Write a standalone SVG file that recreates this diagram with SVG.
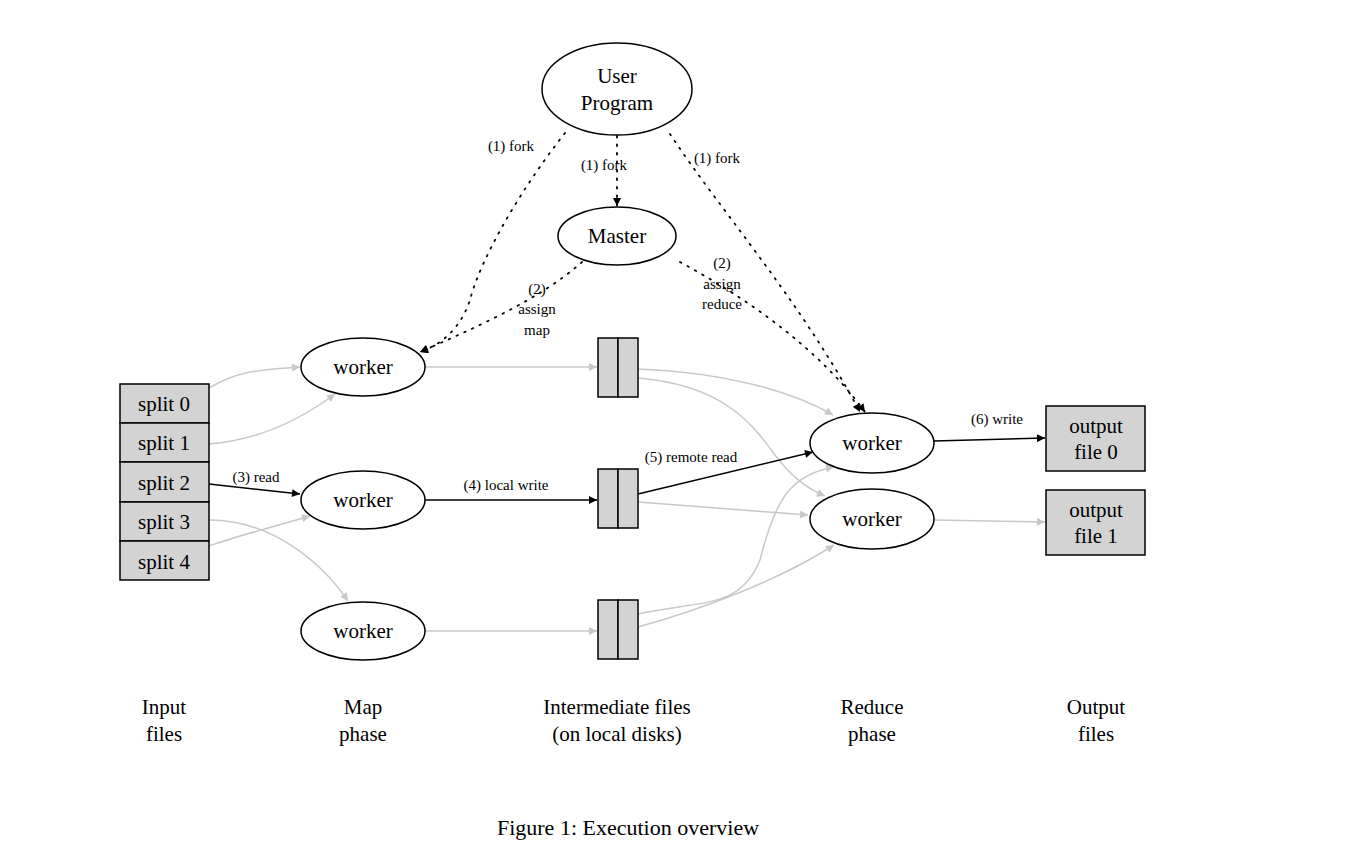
<svg xmlns="http://www.w3.org/2000/svg" width="1358" height="855" viewBox="0 0 1358 855">
<style>
text{font-family:"Liberation Serif","Times New Roman",serif;fill:#000;text-anchor:middle}
.n{font-size:21px}
.l{font-size:15px}
.b{font-size:21px}
.e{fill:#fff;stroke:#000;stroke-width:1.5}
.r{fill:#d3d3d3;stroke:#000;stroke-width:1.5}
.g{fill:none;stroke:#c8c8c8;stroke-width:1.5}
.k{fill:none;stroke:#000;stroke-width:1.5}
.d{fill:none;stroke:#000;stroke-width:1.8;stroke-dasharray:1.5 7;stroke-linecap:round}
</style>
<defs>
<marker id="ag" viewBox="0 0 10 10" refX="10" refY="5" markerWidth="10" markerHeight="8" markerUnits="userSpaceOnUse" orient="auto"><path d="M0,0L10,5L0,10z" fill="#c8c8c8"/></marker>
<marker id="ak" viewBox="0 0 10 10" refX="10" refY="5" markerWidth="10" markerHeight="8" markerUnits="userSpaceOnUse" orient="auto"><path d="M0,0L10,5L0,10z" fill="#000"/></marker>
</defs>
<rect width="1358" height="855" fill="#fff"/>
<g id="connectors">
<path class="d" d="M565,133 C520,190 480,260 470,300 C460,330 440,345 420,352" marker-end="url(#ak)"/>
<path class="d" d="M617,136 L617,206" marker-end="url(#ak)"/>
<path class="d" d="M670,134 C720,210 800,300 860,412" marker-end="url(#ak)"/>
<path class="d" d="M582,262 C540,300 470,330 420,352" marker-end="url(#ak)"/>
<path class="d" d="M680,262 C750,300 820,350 865,412" marker-end="url(#ak)"/>
<path class="g" d="M209,388 C240,370 260,370 300,367" marker-end="url(#ag)"/>
<path class="g" d="M209,444 C260,440 300,420 335,394" marker-end="url(#ag)"/>
<path class="k" d="M209,484 L300,494" marker-end="url(#ak)"/>
<path class="g" d="M209,520 C270,520 320,560 348,601" marker-end="url(#ag)"/>
<path class="g" d="M209,546 C240,535 280,525 310,516" marker-end="url(#ag)"/>
<path class="g" d="M425,367 L597,367" marker-end="url(#ag)"/>
<path class="k" d="M425,500 L597,500" marker-end="url(#ak)"/>
<path class="g" d="M425,631 L597,631" marker-end="url(#ag)"/>
<path class="g" d="M638,369 C720,372 790,390 833,415" marker-end="url(#ag)"/>
<path class="g" d="M638,378 C720,385 750,420 775,455 C790,475 805,488 825,496" marker-end="url(#ag)"/>
<path class="k" d="M638,494 L813,452" marker-end="url(#ak)"/>
<path class="g" d="M638,502 L808,515" marker-end="url(#ag)"/>
<path class="g" d="M638,614 C700,600 740,610 760,560 C775,500 790,475 834,467" marker-end="url(#ag)"/>
<path class="g" d="M638,627 C700,610 780,580 834,545" marker-end="url(#ag)"/>
<path class="k" d="M934,441 L1045,438" marker-end="url(#ak)"/>
<path class="g" d="M934,520 L1045,522" marker-end="url(#ag)"/>
<text class="l" x="511" y="151">(1) fork</text>
<text class="l" x="604" y="170">(1) fork</text>
<text class="l" x="717" y="163">(1) fork</text>
<text class="l" x="537" y="294">(2)</text>
<text class="l" x="537" y="314">assign</text>
<text class="l" x="537" y="335">map</text>
<text class="l" x="722" y="268">(2)</text>
<text class="l" x="722" y="289">assign</text>
<text class="l" x="722" y="309">reduce</text>
<text class="l" x="256" y="482">(3) read</text>
<text class="l" x="506" y="490">(4) local write</text>
<text class="l" x="691" y="462">(5) remote read</text>
<text class="l" x="997" y="424">(6) write</text>
</g>
<g id="user"><ellipse class="e" cx="617" cy="89" rx="75" ry="46"/><text class="n" x="617" y="83">User</text><text class="n" x="617" y="110">Program</text></g>
<g id="master"><ellipse class="e" cx="617" cy="236" rx="59" ry="29"/><text class="n" x="617" y="243">Master</text></g>
<g id="splits">
<rect class="r" x="120" y="384" width="89" height="39"/><text class="n" x="164" y="411">split 0</text>
<rect class="r" x="120" y="423" width="89" height="39"/><text class="n" x="164" y="450">split 1</text>
<rect class="r" x="120" y="462" width="89" height="40"/><text class="n" x="164" y="490">split 2</text>
<rect class="r" x="120" y="502" width="89" height="39"/><text class="n" x="164" y="529">split 3</text>
<rect class="r" x="120" y="541" width="89" height="39"/><text class="n" x="164" y="569">split 4</text>
</g>
<g id="mapw1"><ellipse class="e" cx="363" cy="367" rx="62" ry="29"/><text class="n" x="363" y="374">worker</text></g>
<g id="mapw2"><ellipse class="e" cx="363" cy="500" rx="62" ry="29"/><text class="n" x="363" y="507">worker</text></g>
<g id="mapw3"><ellipse class="e" cx="363" cy="631" rx="62" ry="29"/><text class="n" x="363" y="638">worker</text></g>
<g id="file1"><rect class="r" x="598" y="338" width="20" height="59"/><rect class="r" x="618" y="338" width="20" height="59"/></g>
<g id="file2"><rect class="r" x="598" y="469" width="20" height="59"/><rect class="r" x="618" y="469" width="20" height="59"/></g>
<g id="file3"><rect class="r" x="598" y="600" width="20" height="59"/><rect class="r" x="618" y="600" width="20" height="59"/></g>
<g id="redw1"><ellipse class="e" cx="872" cy="443" rx="62" ry="30"/><text class="n" x="872" y="450">worker</text></g>
<g id="redw2"><ellipse class="e" cx="872" cy="519" rx="62" ry="30"/><text class="n" x="872" y="526">worker</text></g>
<g id="out0"><rect class="r" x="1046" y="406" width="99" height="65"/><text class="n" x="1096" y="433">output</text><text class="n" x="1096" y="459">file 0</text></g>
<g id="out1"><rect class="r" x="1046" y="490" width="99" height="65"/><text class="n" x="1096" y="517">output</text><text class="n" x="1096" y="543">file 1</text></g>
<g id="labels">
<text class="b" x="164" y="714">Input</text><text class="b" x="164" y="741">files</text>
<text class="b" x="363" y="714">Map</text><text class="b" x="363" y="741">phase</text>
<text class="b" x="617" y="714">Intermediate files</text><text class="b" x="617" y="741">(on local disks)</text>
<text class="b" x="872" y="714">Reduce</text><text class="b" x="872" y="741">phase</text>
<text class="b" x="1096" y="714">Output</text><text class="b" x="1096" y="741">files</text>
<text class="b" x="628" y="835" style="font-size:22px">Figure 1: Execution overview</text>
</g>
</svg>
